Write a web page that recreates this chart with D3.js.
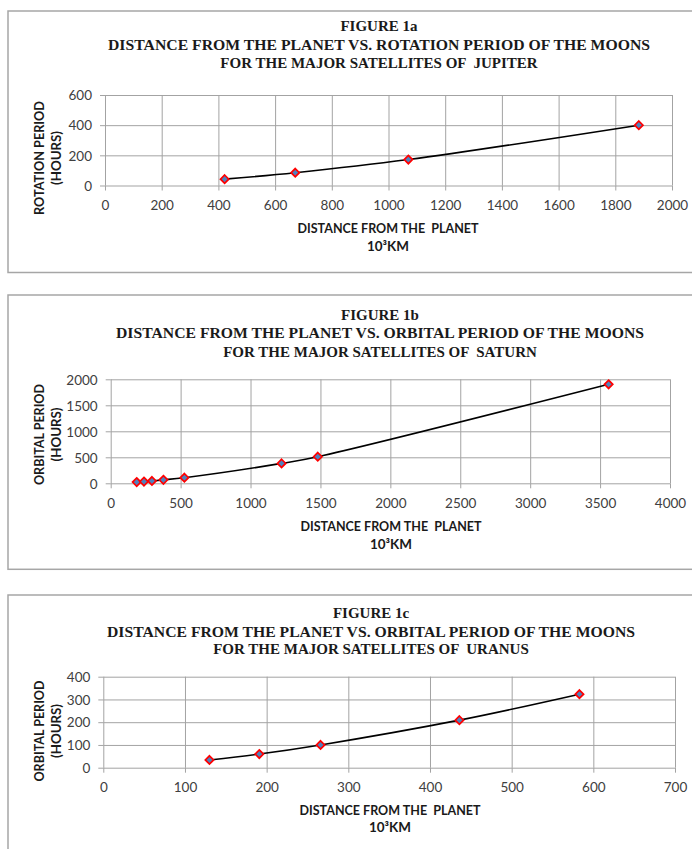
<!DOCTYPE html>
<html>
<head>
<meta charset="utf-8">
<script src="https://cdn.jsdelivr.net/npm/d3@7"></script>
<style>
  html, body { margin: 0; padding: 0; background: #fff; }
  svg { display: block; }
  text { white-space: pre; }
  .title { font-family: "Liberation Serif", "Times New Roman", serif; font-weight: bold; font-size: 15px; fill: #1a1a1a; }
  .tick text { font-family: Lato, "Open Sans", sans-serif; font-size: 13.5px; fill: #404040; }
  .axtitle { font-family: Lato, "Open Sans", sans-serif; font-weight: bold; font-size: 14px; fill: #1a1a1a; }
</style>
</head>
<body>
<svg id="chart" width="692" height="849"></svg>
<script>
// ---- data ----
const jupiterDistance = [422, 671, 1070, 1883];
const jupiterPeriod   = [42, 85, 172, 400];
const jupiterXTicks = [0, 200, 400, 600, 800, 1000, 1200, 1400, 1600, 1800, 2000];
const jupiterYTicks = [0, 200, 400, 600];

const saturnDistance = [186, 238, 295, 377, 527, 1222, 1481, 3561];
const saturnPeriod   = [23, 33, 45, 66, 108, 383, 511, 1904];
const saturnXTicks = [0, 500, 1000, 1500, 2000, 2500, 3000, 3500, 4000];
const saturnYTicks = [0, 500, 1000, 1500, 2000];

const uranusDistance = [130, 191, 266, 436, 583];
const uranusPeriod   = [34, 60, 100, 209, 323];
const uranusXTicks = [0, 100, 200, 300, 400, 500, 600, 700];
const uranusYTicks = [0, 100, 200, 300, 400];

const titles1a = ["FIGURE 1a", "DISTANCE FROM THE PLANET VS. ROTATION PERIOD OF THE MOONS", "FOR THE MAJOR SATELLITES OF  JUPITER"];
const titles1b = ["FIGURE 1b", "DISTANCE FROM THE PLANET VS. ORBITAL PERIOD OF THE MOONS", "FOR THE MAJOR SATELLITES OF  SATURN"];
const titles1c = ["FIGURE 1c", "DISTANCE FROM THE PLANET VS. ORBITAL PERIOD OF THE MOONS", "FOR THE MAJOR SATELLITES OF  URANUS"];
const xTitle = ["DISTANCE FROM THE  PLANET", "10³KM"];
const yTitle1a = ["ROTATION PERIOD", "(HOURS)"];
const yTitleOrb = ["ORBITAL PERIOD", "(HOURS)"];

// ---- layout ----
const panels = [
  { xs: jupiterDistance, ys: jupiterPeriod, xt: jupiterXTicks, yt: jupiterYTicks, titles: titles1a, yTitle: yTitle1a,
    box: [11, 272.5], plot: { x0: 105, x1: 672, y0: 185.5, y1: 95 }, tx: 379, ty: [26, 45, 62.5],
    xtx: 388, xty: [227.3, 245], ytc: 158, tw: 542, yw: [114, 54] },
  { xs: saturnDistance, ys: saturnPeriod, xt: saturnXTicks, yt: saturnYTicks, titles: titles1b, yTitle: yTitleOrb,
    box: [295, 569.3], plot: { x0: 110.7, x1: 670, y0: 483.3, y1: 379.3 }, tx: 380, ty: [314.5, 333, 351.5],
    xtx: 391, xty: [525, 543], ytc: 434.5, tw: 528, yw: [101, 54] },
  { xs: uranusDistance, ys: uranusPeriod, xt: uranusXTicks, yt: uranusYTicks, titles: titles1c, yTitle: yTitleOrb,
    box: [595, 870], plot: { x0: 103.3, x1: 675, y0: 767.7, y1: 676.7 }, tx: 371, ty: [613, 631.5, 649.3],
    xtx: 390, xty: [809.3, 826.7], ytc: 731, tw: 528, yw: [101, 54] }
];

const svg = d3.select("#chart");
const grid = "#a3a3a3";

panels.forEach(p => {
  const g = svg.append("g");
  g.append("rect").attr("x", 8).attr("y", p.box[0]).attr("width", 700).attr("height", p.box[1] - p.box[0])
    .attr("fill", "#fff").attr("stroke", "#a6a6a6").attr("stroke-width", 1.5);

  p.titles.forEach((t, i) => {
    const el = g.append("text").attr("class", "title").attr("x", p.tx).attr("y", p.ty[i])
      .attr("text-anchor", "middle").attr("dominant-baseline", "central").text(t);
    if (i === 1) el.attr("textLength", p.tw).attr("lengthAdjust", "spacingAndGlyphs");
  });

  const x = d3.scaleLinear().domain([p.xt[0], p.xt[p.xt.length - 1]]).range([p.plot.x0, p.plot.x1]);
  const y = d3.scaleLinear().domain([p.yt[0], p.yt[p.yt.length - 1]]).range([p.plot.y0, p.plot.y1]);
  const w = p.plot.x1 - p.plot.x0, h = p.plot.y0 - p.plot.y1;

  // horizontal grid + y axis
  const ya = g.append("g").attr("transform", `translate(${p.plot.x0},0)`)
    .call(d3.axisLeft(y).tickValues(p.yt).tickSize(-w).tickPadding(0).tickFormat(d3.format("d")));
  ya.select(".domain").remove();
  ya.selectAll(".tick line").attr("stroke", grid).attr("x1", 0).attr("x2", w);
  ya.selectAll(".tick").append("line").attr("x1", -5).attr("x2", 0).attr("stroke", grid);
  ya.selectAll(".tick text").attr("x", -13).attr("dy", "0.35em");

  // vertical grid + x axis
  const xa = g.append("g").attr("transform", `translate(0,${p.plot.y0})`)
    .call(d3.axisBottom(x).tickValues(p.xt).tickSize(-h).tickFormat(d3.format("d")));
  xa.select(".domain").remove();
  xa.selectAll(".tick line").attr("stroke", grid);
  xa.selectAll(".tick").append("line").attr("y1", 0).attr("y2", 5).attr("stroke", grid);
  xa.selectAll(".tick text").attr("y", 19.5).attr("dy", "0.35em");

  // axes titles
  g.append("text").attr("class", "axtitle").attr("x", p.xtx).attr("y", p.xty[0]).attr("text-anchor", "middle")
    .attr("dominant-baseline", "central").attr("textLength", 181).attr("lengthAdjust", "spacingAndGlyphs").text(xTitle[0]);
  g.append("text").attr("class", "axtitle").attr("x", p.xtx).attr("y", p.xty[1]).attr("text-anchor", "middle")
    .attr("dominant-baseline", "central").attr("textLength", 42).attr("lengthAdjust", "spacingAndGlyphs").text(xTitle[1]);

  [38.3, 55].forEach((cx, i) => {
    g.append("text").attr("class", "axtitle")
      .attr("transform", `translate(${cx},${p.ytc}) rotate(-90)`)
      .attr("text-anchor", "middle").attr("dominant-baseline", "central")
      .attr("textLength", p.yw[i]).attr("lengthAdjust", "spacingAndGlyphs").text(p.yTitle[i]);
  });

  // line + markers
  const pts = p.xs.map((d, i) => [d, p.ys[i]]);
  const line = d3.line().x(d => x(d[0])).y(d => y(d[1])).curve(d3.curveCatmullRom.alpha(0.5));
  g.append("path").datum(pts).attr("d", line).attr("fill", "none").attr("stroke", "#000").attr("stroke-width", 1.6);
  g.selectAll("path.mk").data(pts).enter().append("path").attr("class", "mk")
    .attr("d", d3.symbol(d3.symbolDiamond2, 44))
    .attr("transform", d => `translate(${x(d[0])},${y(d[1])})`)
    .attr("fill", "#4f81bd").attr("stroke", "#ff0000").attr("stroke-width", 1.7);
});
</script>
</body>
</html>
